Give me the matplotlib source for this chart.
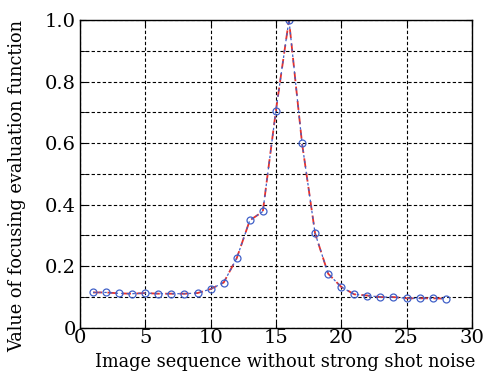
import numpy as np
import matplotlib.pyplot as plt
from matplotlib.ticker import MultipleLocator

# image index and focus measure values
frames = list(range(1, 29))
focus_blue = [0.115, 0.115, 0.112, 0.111, 0.113, 0.111, 0.111, 0.111, 0.113, 0.126,
              0.147, 0.226, 0.349, 0.378, 0.705, 1.0, 0.60, 0.307, 0.176, 0.133,
              0.109, 0.105, 0.100, 0.100, 0.096, 0.096, 0.096, 0.095]
focus_red = [0.115, 0.115, 0.112, 0.111, 0.113, 0.111, 0.111, 0.111, 0.113, 0.126,
             0.147, 0.226, 0.349, 0.378, 0.705, 1.0, 0.60, 0.307, 0.176, 0.133,
             0.109, 0.105, 0.100, 0.100, 0.096, 0.096, 0.096, 0.095]

x_ticks = [0, 5, 10, 15, 20, 25, 30]
y_ticks = [0, 0.2, 0.4, 0.6, 0.8, 1.0]
y_labels = ['0', '0.2', '0.4', '0.6', '0.8', '1.0']

plt.rcParams['font.family'] = ['DejaVu Serif']

fig = plt.figure(figsize=(5.03, 3.76), dpi=100)
ax = fig.add_axes([0.159, 0.128, 0.779, 0.819])

ax.plot(frames, focus_red, color='#e8302a', linestyle=(0, (5, 3)), linewidth=1.3)
ax.plot(frames, focus_blue, color='#4060c8', linestyle=(0, (2, 2.5)), linewidth=0.9,
        marker='o', markersize=5, markerfacecolor='none', markeredgewidth=0.9)

ax.set_xlim(0, 30)
ax.set_ylim(0, 1.0)
ax.set_xticks(x_ticks)
ax.set_yticks(y_ticks)
ax.set_yticklabels(y_labels)
ax.yaxis.set_minor_locator(MultipleLocator(0.1))
ax.tick_params(which='both', direction='in', top=True, right=True, labelsize=14, length=4)
ax.tick_params(axis='x', pad=1)
ax.tick_params(axis='y', pad=3)

ax.grid(True, which='both', color='black', linestyle=(0, (3, 2)), linewidth=0.8)
ax.set_axisbelow(True)
for s in ax.spines.values():
    s.set_linewidth(1.0)

# axis titles placed like the original figure
fig.text(0.567, 0.036, 'Image sequence without strong shot noise', fontsize=12.8,
         ha='center', va='center')
fig.text(0.034, 0.505, 'Value of focusing evaluation function', fontsize=12.8,
         ha='center', va='center', rotation=90)

fig.savefig('out.png', dpi=100)
